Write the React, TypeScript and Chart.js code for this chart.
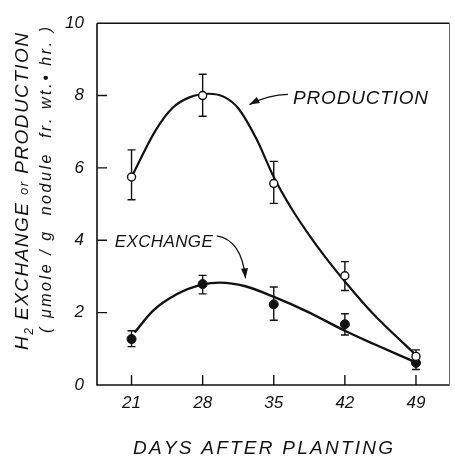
import React, { useEffect, useRef } from "react";
import { Chart, registerables } from "chart.js";

Chart.register(...registerables);

// ---- data ----
const days = [21, 28, 35, 42, 49];
const productionValues = [5.75, 8.0, 5.57, 3.02, 0.79];
const productionErrLow = [5.12, 7.43, 5.02, 2.61, 0.64];
const productionErrHigh = [6.5, 8.59, 6.18, 3.41, 0.97];
const exchangeValues = [1.27, 2.79, 2.23, 1.68, 0.61];
const exchangeErrLow = [1.06, 2.52, 1.79, 1.38, 0.43];
const exchangeErrHigh = [1.5, 3.03, 2.71, 1.97, 0.8];

// fitted curves
const productionCurveDays = [21, 23.4, 25, 26.7, 28.6, 30.2, 31.5, 33.3, 35, 36.7, 38.3, 40, 42, 44.8, 48.8];
const productionCurveValues = [5.75, 7.05, 7.65, 7.95, 8.05, 7.95, 7.65, 6.8, 5.75, 4.9, 4.22, 3.56, 2.86, 1.96, 0.88];
const exchangeCurveDays = [21.3, 23.1, 25.4, 28, 29.7, 32.2, 34.9, 38.3, 42, 44.8, 48.7];
const exchangeCurveValues = [1.45, 2.05, 2.5, 2.78, 2.83, 2.73, 2.45, 2.03, 1.5, 1.14, 0.66];

const xTicks = [21, 28, 35, 42, 49];
const yTicks = [0, 2, 4, 6, 8, 10];
const xMin = 17.6;
const xMax = 52.3;
const yMin = 0;
const yMax = 10;

const xTitle = "DAYS AFTER PLANTING";
const yTitleParts = ["H", "2", " EXCHANGE ", "or", " PRODUCTION"];
const yTitleLine2 = "( μmole / g  nodule  fr. wt.• hr. )";
const productionLabel = "PRODUCTION";
const exchangeLabel = "EXCHANGE";

// annotation anchors in data coordinates [day, value]
const productionTextAt = [36.9, 7.78];
const productionArrow = [[36.41, 8.03], [34.46, 8.02], [32.61, 7.75]];
const exchangeTextAt = [19.35, 3.82];
const exchangeArrow = [[29.39, 4.12], [31.83, 4.01], [32.22, 2.95]];

const FONT = '"Liberation Sans", "DejaVu Sans", sans-serif';
const INK = "#111";

function drawFitted(ctx: CanvasRenderingContext2D, text: string, x: number, y: number, width: number, align: "left" | "center") {
  const chars = Array.from(text);
  const widths = chars.map((c) => ctx.measureText(c).width);
  const total = widths.reduce((a, b) => a + b, 0);
  const gap = chars.length > 1 ? (width - total) / (chars.length - 1) : 0;
  let cx = align === "center" ? x - width / 2 : x;
  ctx.textAlign = "left";
  chars.forEach((c, i) => {
    ctx.fillText(c, cx, y);
    cx += widths[i] + gap;
  });
}

function drawArrow(ctx: CanvasRenderingContext2D, pts: number[][], sx: any, sy: any) {
  const p = pts.map(([d, v]) => [sx.getPixelForValue(d), sy.getPixelForValue(v)]);
  ctx.beginPath();
  ctx.moveTo(p[0][0], p[0][1]);
  ctx.quadraticCurveTo(p[1][0], p[1][1], p[2][0], p[2][1]);
  ctx.lineWidth = 1.3;
  ctx.strokeStyle = INK;
  ctx.stroke();
  const ang = Math.atan2(p[2][1] - p[1][1], p[2][0] - p[1][0]);
  const len = 10;
  const hw = 3.5;
  const tx = p[2][0];
  const ty = p[2][1];
  ctx.beginPath();
  ctx.moveTo(tx, ty);
  ctx.lineTo(tx - len * Math.cos(ang) + hw * Math.sin(ang), ty - len * Math.sin(ang) - hw * Math.cos(ang));
  ctx.lineTo(tx - len * Math.cos(ang) - hw * Math.sin(ang), ty - len * Math.sin(ang) + hw * Math.cos(ang));
  ctx.closePath();
  ctx.fillStyle = INK;
  ctx.fill();
}

const customPlugin = {
  id: "customDecor",
  beforeDatasetsDraw(chart: any) {
    const { ctx, scales } = chart;
    const sx = scales.x;
    const sy = scales.y;
    ctx.save();
    ctx.strokeStyle = INK;
    ctx.lineWidth = 1.4;
    const drawErr = (lo: number[], hi: number[]) => {
      days.forEach((d, i) => {
        const px = sx.getPixelForValue(d);
        const y1 = sy.getPixelForValue(lo[i]);
        const y2 = sy.getPixelForValue(hi[i]);
        ctx.beginPath();
        ctx.moveTo(px, y1);
        ctx.lineTo(px, y2);
        ctx.moveTo(px - 4, y1);
        ctx.lineTo(px + 4, y1);
        ctx.moveTo(px - 4, y2);
        ctx.lineTo(px + 4, y2);
        ctx.stroke();
      });
    };
    drawErr(productionErrLow, productionErrHigh);
    drawErr(exchangeErrLow, exchangeErrHigh);
    ctx.restore();
  },
  afterDraw(chart: any) {
    const { ctx, chartArea, scales } = chart;
    const sx = scales.x;
    const sy = scales.y;
    const { left, right, top, bottom } = chartArea;
    ctx.save();
    // frame
    ctx.strokeStyle = INK;
    ctx.lineWidth = 1.6;
    ctx.beginPath();
    ctx.moveTo(left, top);
    ctx.lineTo(left, bottom);
    ctx.lineTo(right, bottom);
    ctx.moveTo(left, top);
    ctx.lineTo(right, top);
    ctx.stroke();
    ctx.strokeStyle = "#666";
    ctx.lineWidth = 1;
    ctx.beginPath();
    ctx.moveTo(right, top);
    ctx.lineTo(right, bottom);
    ctx.stroke();
    // inward ticks
    ctx.strokeStyle = INK;
    ctx.lineWidth = 1.4;
    ctx.beginPath();
    yTicks.forEach((v) => {
      if (v === yMin || v === yMax) return;
      const py = sy.getPixelForValue(v);
      ctx.moveTo(left, py);
      ctx.lineTo(left + 10, py);
    });
    xTicks.forEach((d) => {
      const px = sx.getPixelForValue(d);
      ctx.moveTo(px, bottom);
      ctx.lineTo(px, bottom - 10);
    });
    ctx.stroke();

    ctx.fillStyle = INK;
    ctx.textBaseline = "alphabetic";
    // x title
    ctx.font = `italic 19px ${FONT}`;
    drawFitted(ctx, xTitle, 263, 454, 260, "center");

    // y title line 1 (rotated)
    ctx.save();
    ctx.translate(28, 191.5);
    ctx.rotate(-Math.PI / 2);
    const sizes = [19, 12, 19, 13, 19];
    const dys = [0, 5, 0, 0, 0];
    const target1 = 317;
    let chars: { c: string; s: number; dy: number; w: number }[] = [];
    yTitleParts.forEach((part, k) => {
      ctx.font = `italic ${sizes[k]}px ${FONT}`;
      Array.from(part).forEach((c) => chars.push({ c, s: sizes[k], dy: dys[k], w: ctx.measureText(c).width }));
    });
    const tot1 = chars.reduce((a, b) => a + b.w, 0);
    const gap1 = (target1 - tot1) / (chars.length - 1);
    let cx = -target1 / 2;
    chars.forEach((ch) => {
      ctx.font = `italic ${ch.s}px ${FONT}`;
      ctx.fillText(ch.c, cx, ch.dy);
      cx += ch.w + gap1;
    });
    ctx.restore();

    // y title line 2
    ctx.save();
    ctx.translate(51, 180);
    ctx.rotate(-Math.PI / 2);
    ctx.font = `italic 16px ${FONT}`;
    drawFitted(ctx, yTitleLine2, 0, 0, 306, "center");
    ctx.restore();

    // annotations
    ctx.font = `italic 19px ${FONT}`;
    drawFitted(ctx, productionLabel, sx.getPixelForValue(productionTextAt[0]), sy.getPixelForValue(productionTextAt[1]), 135, "left");
    ctx.font = `italic 17px ${FONT}`;
    drawFitted(ctx, exchangeLabel, sx.getPixelForValue(exchangeTextAt[0]), sy.getPixelForValue(exchangeTextAt[1]), 98, "left");
    drawArrow(ctx, productionArrow, sx, sy);
    drawArrow(ctx, exchangeArrow, sx, sy);
    ctx.restore();
  },
};

export default function App() {
  const canvasRef = useRef<HTMLCanvasElement | null>(null);

  useEffect(() => {
    const canvas = canvasRef.current;
    if (!canvas) return;
    const chart = new Chart(canvas, {
      type: "scatter",
      data: {
        datasets: [
          {
            label: "Production points",
            data: days.map((d, i) => ({ x: d, y: productionValues[i] })),
            showLine: false,
            pointRadius: 4,
            pointBackgroundColor: "#fff",
            pointBorderColor: INK,
            pointBorderWidth: 1.4,
            order: 0,
          },
          {
            label: "Exchange points",
            data: days.map((d, i) => ({ x: d, y: exchangeValues[i] })),
            showLine: false,
            pointRadius: 4.5,
            pointBackgroundColor: INK,
            pointBorderColor: INK,
            pointBorderWidth: 1,
            order: 0,
          },
          {
            label: "Production curve",
            data: productionCurveDays.map((d, i) => ({ x: d, y: productionCurveValues[i] })),
            showLine: true,
            pointRadius: 0,
            borderColor: INK,
            borderWidth: 2.2,
            cubicInterpolationMode: "monotone",
            order: 1,
          },
          {
            label: "Exchange curve",
            data: exchangeCurveDays.map((d, i) => ({ x: d, y: exchangeCurveValues[i] })),
            showLine: true,
            pointRadius: 0,
            borderColor: INK,
            borderWidth: 2.4,
            cubicInterpolationMode: "monotone",
            order: 1,
          },
        ],
      },
      options: {
        animation: false,
        responsive: false,
        maintainAspectRatio: false,
        layout: { padding: { top: 18.5, right: 2, left: 0, bottom: 0 } },
        plugins: { legend: { display: false }, tooltip: { enabled: false } },
        scales: {
          x: {
            type: "linear",
            min: xMin,
            max: xMax,
            afterBuildTicks: (scale: any) => {
              scale.ticks = xTicks.map((v) => ({ value: v }));
            },
            afterFit: (scale: any) => {
              scale.height = 75;
            },
            grid: { display: false, drawTicks: false },
            border: { display: false },
            ticks: {
              padding: 8,
              color: INK,
              font: { family: FONT, size: 17, style: "italic" },
              maxRotation: 0,
              autoSkip: false,
              callback: (v: any) => String(v),
            },
          },
          y: {
            type: "linear",
            min: yMin,
            max: yMax,
            afterBuildTicks: (scale: any) => {
              scale.ticks = yTicks.map((v) => ({ value: v }));
            },
            afterFit: (scale: any) => {
              scale.width = 97;
            },
            grid: { display: false, drawTicks: false },
            border: { display: false },
            ticks: {
              padding: 13,
              color: INK,
              font: { family: FONT, size: 17, style: "italic" },
              callback: (v: any) => String(v),
            },
          },
        },
      },
      plugins: [customPlugin],
    } as any);
    return () => chart.destroy();
  }, []);

  return (
    <div style={{ position: "absolute", left: 0, top: 0, width: 455, height: 460, background: "#fff" }}>
      <canvas ref={canvasRef} width={455} height={460} style={{ display: "block" }} />
    </div>
  );
}
